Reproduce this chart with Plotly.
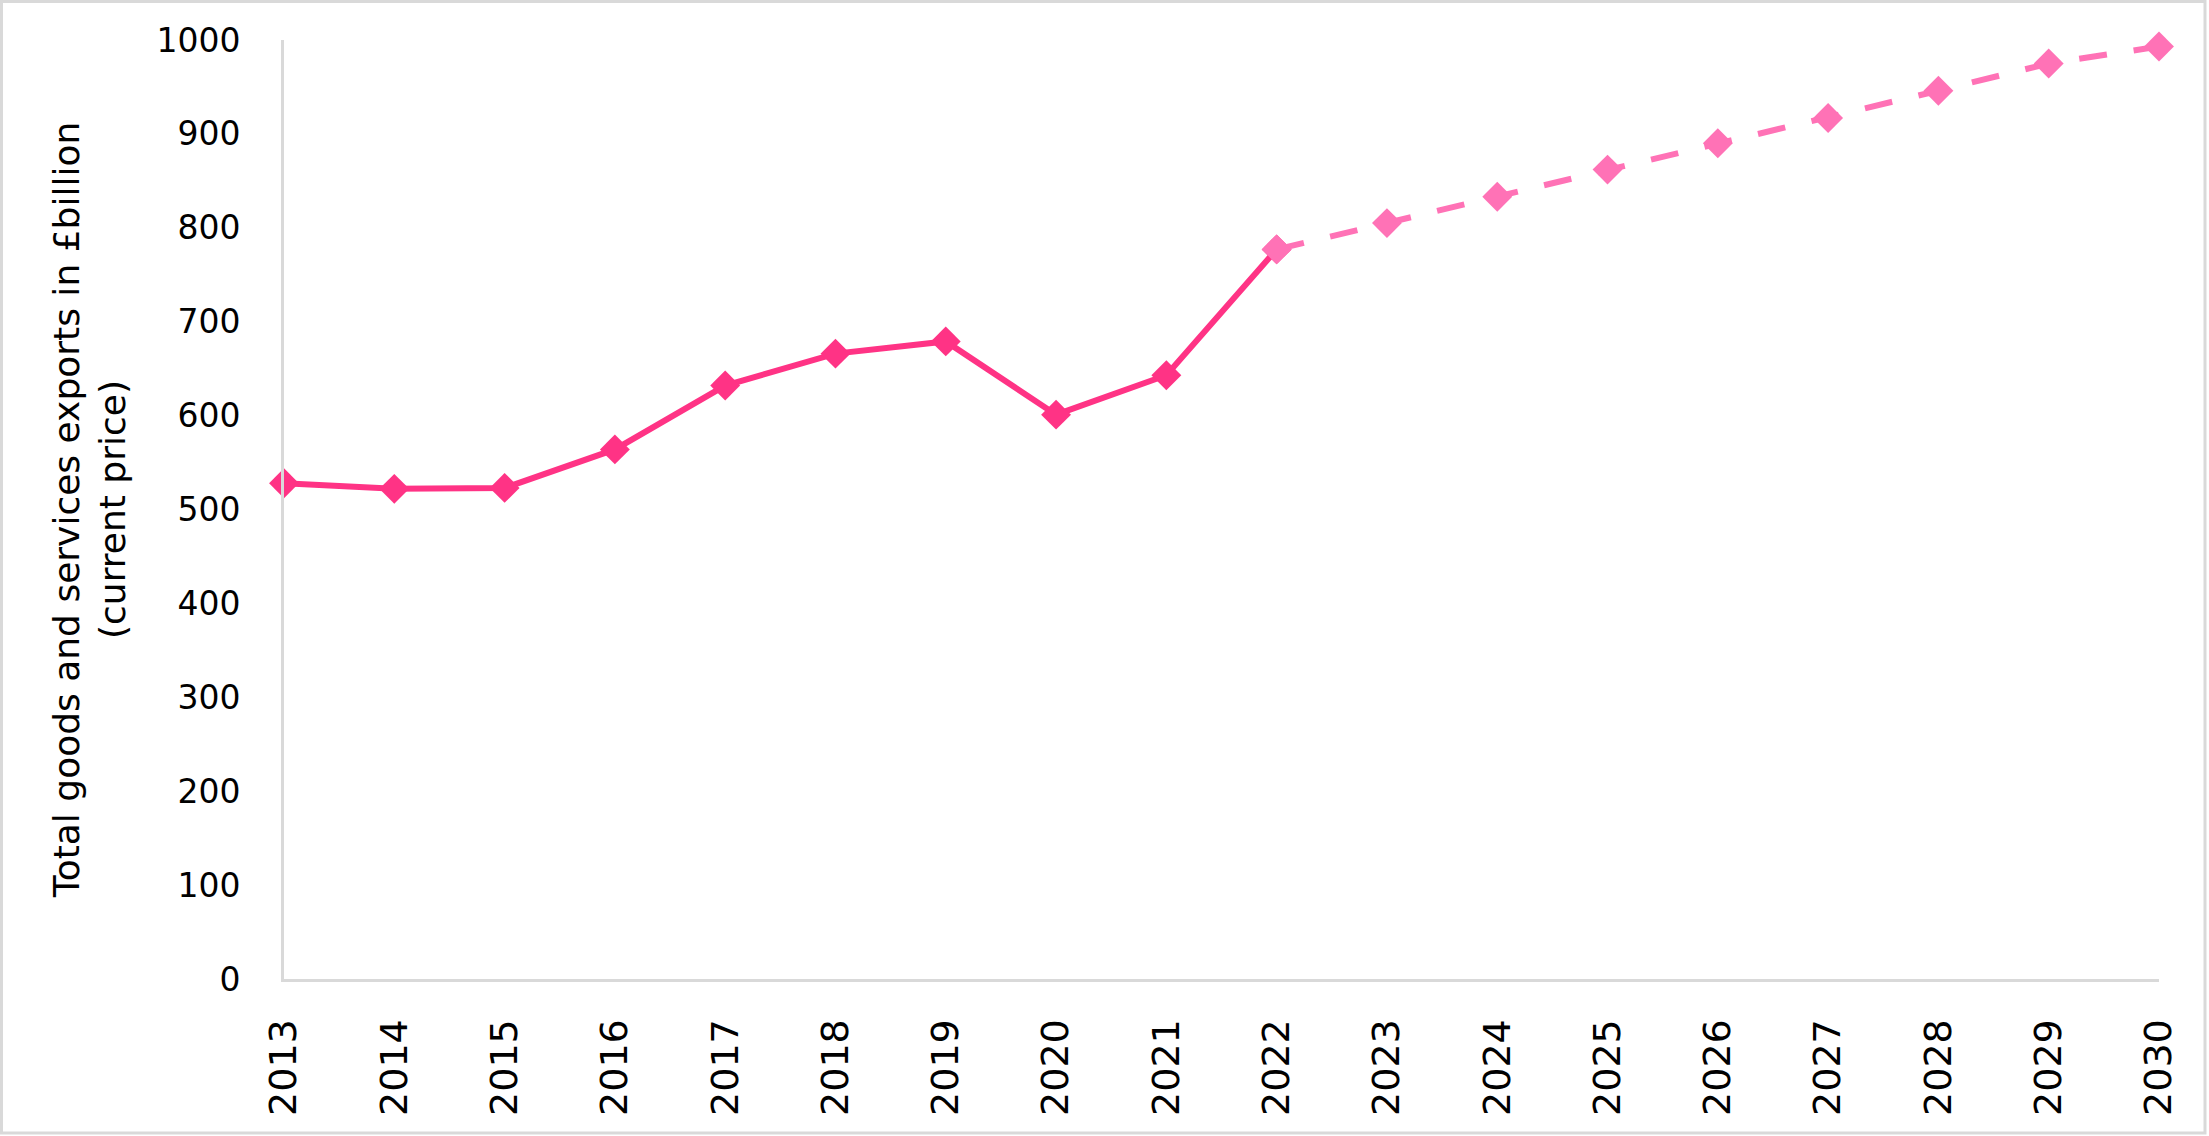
import plotly.graph_objects as go

years_actual = [2013, 2014, 2015, 2016, 2017, 2018, 2019, 2020, 2021, 2022]
exports_actual = [528, 522, 523, 564, 632, 666, 679, 601, 643, 777]

years_forecast = [2022, 2023, 2024, 2025, 2026, 2027, 2028, 2029, 2030]
exports_forecast = [777, 805, 833, 862, 890, 917, 946, 975, 993]

year_ticks = list(range(2013, 2031))
y_ticks = [0, 100, 200, 300, 400, 500, 600, 700, 800, 900, 1000]

SOLID = "#FF3385"
DASHED = "#FF72B6"
AXIS = "#D9D9D9"
FONT = "DejaVu Sans, Liberation Sans, Arial, sans-serif"

fig = go.Figure()
fig.add_trace(go.Scatter(
    x=years_actual, y=exports_actual, mode="lines+markers",
    line=dict(color=SOLID, width=6),
    marker=dict(symbol="diamond", size=23, color=SOLID, line=dict(width=0)),
    showlegend=False, cliponaxis=False,
))
fig.add_trace(go.Scatter(
    x=years_forecast, y=exports_forecast, mode="lines+markers",
    line=dict(color=DASHED, width=6, dash="28px,27px"),
    marker=dict(symbol="diamond", size=23, color=DASHED, line=dict(width=0)),
    showlegend=False, cliponaxis=False,
))

W, H = 2209, 1136
ml, mr, mt, mb = 284, 50, 40, 157
pw, ph = W - ml - mr, H - mt - mb

def px_x(p):
    return (p - ml) / pw

def px_y(p):
    return (H - mb - p) / ph

fig.add_shape(type="rect", xref="paper", yref="paper",
              x0=px_x(1.5), x1=px_x(W - 4), y0=px_y(H - 3), y1=px_y(1.5),
              line=dict(color=AXIS, width=3), fillcolor="rgba(0,0,0,0)", layer="below")

fig.update_layout(
    width=W, height=H,
    margin=dict(l=ml, r=mr, t=mt, b=mb, pad=0),
    paper_bgcolor="white", plot_bgcolor="white",
    font=dict(family=FONT, size=34, color="black"),
    xaxis=dict(
        range=[2013, 2030], tickmode="array", tickvals=year_ticks,
        ticktext=[str(y) for y in year_ticks], tickangle=-90,
        showgrid=False, zeroline=False, showline=True, linecolor=AXIS, linewidth=3,
        ticks="", ticklabelstandoff=22, tickfont=dict(size=38, family=FONT, color="black"),
    ),
    yaxis=dict(
        range=[0, 1000], tickmode="array", tickvals=y_ticks,
        showgrid=False, zeroline=False, showline=True, linecolor=AXIS, linewidth=3,
        ticks="", ticklabelstandoff=34, tickfont=dict(size=33, family=FONT, color="black"),
        title=dict(text="Total goods and services exports in £billion<br>(current price)",
                   font=dict(size=36, family=FONT, color="black"), standoff=20),
    ),
)

fig.write_html("out.html", config={"displayModeBar": False},
               post_script="document.body.style.margin='0';document.body.style.overflow='hidden';")
